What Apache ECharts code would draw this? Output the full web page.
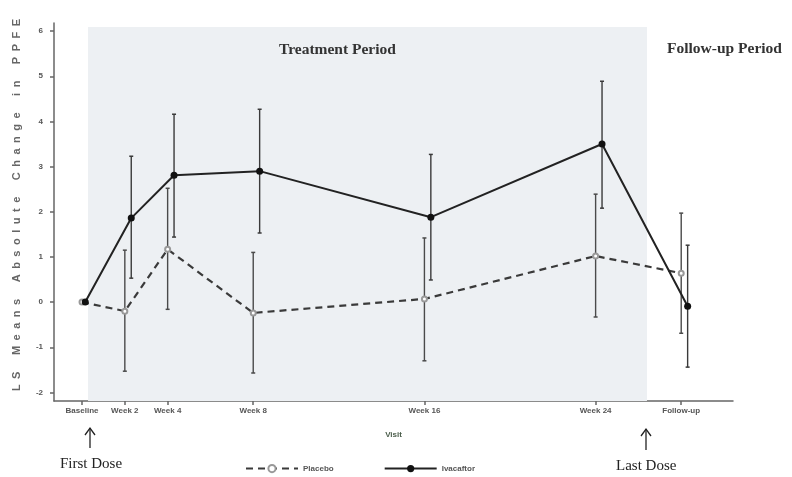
<!DOCTYPE html>
<html>
<head>
<meta charset="utf-8">
<script src="https://cdn.jsdelivr.net/npm/echarts@6/dist/echarts.min.js"></script>
<style>html,body{margin:0;padding:0;background:#fff}#c{width:792px;height:477px}</style>
</head>
<body>
<div id="c"></div>
<script>
// ---- data ----
const visitLabels = ['Baseline', 'Week 2', 'Week 4', 'Week 8', 'Week 16', 'Week 24', 'Follow-up'];
const visitWeeks = [0, 2, 4, 8, 16, 24, 28];
const placeboMean = [0, -0.2, 1.17, -0.24, 0.07, 1.02, 0.64];
const placeboLow  = [null, -1.53, -0.16, -1.57, -1.3, -0.33, -0.69];
const placeboHigh = [null, 1.15, 2.52, 1.1, 1.42, 2.39, 1.97];
const ivaMean = [0, 1.86, 2.81, 2.9, 1.88, 3.5, -0.09];
const ivaLow  = [null, 0.53, 1.44, 1.53, 0.49, 2.08, -1.44];
const ivaHigh = [null, 3.23, 4.16, 4.27, 3.27, 4.89, 1.26];
const yTicks = [-2, -1, 0, 1, 2, 3, 4, 5, 6];
const treatmentSpan = [0.28, 26.4];
const ivaDodge = 0.3;

const chart = echarts.init(document.getElementById('c'), null, {renderer: 'canvas'});
const smallFont = {fontFamily: 'Liberation Sans Narrow, Arial Narrow, Liberation Sans, sans-serif', fontWeight: 'bold', fontSize: 8, color: '#555'};

function errData(weeks, low, high, dx) {
  const out = [];
  weeks.forEach((w, i) => { if (low[i] != null) out.push([w + dx, low[i], high[i]]); });
  return out;
}
function errRender(color, width) {
  return function (params, api) {
    const x = api.value(0);
    const p1 = api.coord([x, api.value(1)]);
    const p2 = api.coord([x, api.value(2)]);
    const cap = 2;
    return {
      type: 'group',
      children: [
        {type: 'line', shape: {x1: p1[0], y1: p1[1], x2: p2[0], y2: p2[1]}, style: {stroke: color, lineWidth: width}},
        {type: 'line', shape: {x1: p1[0] - cap, y1: p1[1], x2: p1[0] + cap, y2: p1[1]}, style: {stroke: color, lineWidth: 1.5}},
        {type: 'line', shape: {x1: p2[0] - cap, y1: p2[1], x2: p2[0] + cap, y2: p2[1]}, style: {stroke: color, lineWidth: 1.5}}
      ]
    };
  };
}

const yName = 'LS Means Absolute Change in PPFE'.split(' ')
  .map(w => w.split('').join('\u2002')).join('\u2003\u2002');

const option = {
  animation: false,
  backgroundColor: '#fff',
  grid: {left: 54, right: 59, top: 23, bottom: 76},
  xAxis: {
    type: 'value', min: -1.31, max: 30.42,
    splitLine: {show: false},
    axisLine: {onZero: false, lineStyle: {color: '#666', width: 1.5}},
    axisTick: {customValues: visitWeeks, length: 4, lineStyle: {color: '#666', width: 1.5}},
    axisLabel: Object.assign({
      customValues: visitWeeks,
      margin: 6,
      formatter: v => visitLabels[visitWeeks.indexOf(v)] || ''
    }, smallFont),
    name: 'Visit', nameLocation: 'middle', nameGap: 30,
    nameTextStyle: {fontFamily: 'Liberation Sans Narrow, Arial Narrow, sans-serif', fontWeight: 'bold', fontSize: 8, color: '#4c5e4c'}
  },
  yAxis: {
    type: 'value', min: -2.19, max: 6.18,
    splitLine: {show: false},
    axisLine: {show: true, onZero: false, lineStyle: {color: '#666', width: 1.5}},
    axisTick: {show: true, customValues: yTicks, length: 4, lineStyle: {color: '#666', width: 1.5}},
    axisLabel: Object.assign({customValues: yTicks, margin: 11}, smallFont),
    name: yName, nameLocation: 'middle', nameRotate: 90, nameGap: 32,
    nameTextStyle: {fontFamily: 'Liberation Sans, Arial, sans-serif', fontWeight: 'bold', fontSize: 11, color: '#666', padding: [0, 0, 0, 14]}
  },
  legend: {
    left: 240, top: 459, itemGap: 50, itemWidth: 52, itemHeight: 9,
    textStyle: smallFont,
    data: ['Placebo', 'Ivacaftor']
  },
  graphic: [
    {type: 'text', z: 100, left: 279, top: 42, style: {text: 'Treatment Period', fontFamily: 'Liberation Serif, Times New Roman, serif', fontWeight: 'bold', fontSize: 15.5, fill: '#333'}},
    {type: 'text', z: 100, left: 667, top: 41, style: {text: 'Follow-up Period', fontFamily: 'Liberation Serif, Times New Roman, serif', fontWeight: 'bold', fontSize: 15.5, fill: '#333'}},
    {type: 'text', z: 100, left: 60, top: 457, style: {text: 'First Dose', fontFamily: 'Liberation Serif, Times New Roman, serif', fontSize: 15, fill: '#222'}},
    {type: 'text', z: 100, left: 616, top: 459, style: {text: 'Last Dose', fontFamily: 'Liberation Serif, Times New Roman, serif', fontSize: 15, fill: '#222'}},
    {type: 'polyline', z: 100, shape: {points: [[90, 448], [90, 428]]}, style: {stroke: '#222', lineWidth: 1.3}},
    {type: 'polyline', z: 100, shape: {points: [[85, 435], [90, 428], [95, 435]]}, style: {stroke: '#222', lineWidth: 1.3, fill: null}},
    {type: 'polyline', z: 100, shape: {points: [[646, 450], [646, 429]]}, style: {stroke: '#222', lineWidth: 1.3}},
    {type: 'polyline', z: 100, shape: {points: [[641, 436], [646, 429], [651, 436]]}, style: {stroke: '#222', lineWidth: 1.3, fill: null}}
  ],
  series: [
    {
      name: 'shade', type: 'line', data: [], z: 0, silent: true,
      markArea: {silent: true, itemStyle: {color: '#edf0f3'}, data: [[{xAxis: treatmentSpan[0], yAxis: 6.09}, {xAxis: treatmentSpan[1], yAxis: -2.19}]]}
    },
    {
      name: 'placeboErr', type: 'custom', z: 3,
      data: errData(visitWeeks, placeboLow, placeboHigh, 0),
      renderItem: errRender('#4a4a4a', 1.4)
    },
    {
      name: 'ivaErr', type: 'custom', z: 3,
      data: errData(visitWeeks, ivaLow, ivaHigh, ivaDodge),
      renderItem: errRender('#3a3a3a', 1.4)
    },
    {
      name: 'Placebo', type: 'line', z: 4,
      data: visitWeeks.map((w, i) => [w, placeboMean[i]]),
      lineStyle: {color: '#3a3a3a', width: 2.2, type: [7, 5]},
      symbol: 'emptyCircle', symbolSize: 5,
      itemStyle: {color: '#999', borderColor: '#999', borderWidth: 1}
    },
    {
      name: 'Ivacaftor', type: 'line', z: 5,
      data: visitWeeks.map((w, i) => [w + (i === 0 ? ivaDodge * 0.5 : ivaDodge), ivaMean[i]]),
      lineStyle: {color: '#222', width: 2},
      symbol: 'circle', symbolSize: 7,
      itemStyle: {color: '#111'}
    }
  ]
};
chart.setOption(option);
</script>
</body>
</html>
